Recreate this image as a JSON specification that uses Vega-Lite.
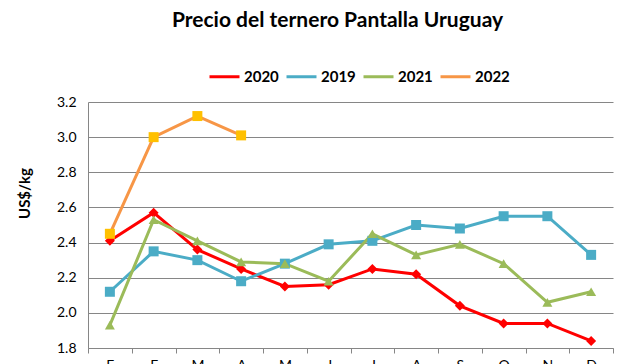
{
  "$schema": "https://vega.github.io/schema/vega-lite/v6.json",
  "width": 525,
  "height": 246,
  "autosize": {"type": "none"},
  "padding": {"left": 88, "top": 102, "right": 27, "bottom": 16},
  "background": "white",
  "title": {
    "text": "Precio del ternero Pantalla Uruguay",
    "font": "Lato",
    "fontSize": 21,
    "fontWeight": "bold",
    "color": "#000000",
    "anchor": "middle",
    "frame": "group",
    "dx": -13,
    "offset": 29
  },
  "config": {
    "view": {"stroke": null},
    "axis": {"labelFont": "Lato", "titleFont": "Lato", "labelColor": "#000000", "titleColor": "#000000"}
  },
  "data": {
    "values": [
      {"mes": "Enero", "serie": "2020", "v": 2.41},
      {"mes": "Febrero", "serie": "2020", "v": 2.57},
      {"mes": "Marzo", "serie": "2020", "v": 2.36},
      {"mes": "Abril", "serie": "2020", "v": 2.25},
      {"mes": "Mayo", "serie": "2020", "v": 2.15},
      {"mes": "Junio", "serie": "2020", "v": 2.16},
      {"mes": "Julio", "serie": "2020", "v": 2.25},
      {"mes": "Agosto", "serie": "2020", "v": 2.22},
      {"mes": "Setiembre", "serie": "2020", "v": 2.04},
      {"mes": "Octubre", "serie": "2020", "v": 1.94},
      {"mes": "Noviembre", "serie": "2020", "v": 1.94},
      {"mes": "Diciembre", "serie": "2020", "v": 1.84},
      {"mes": "Enero", "serie": "2019", "v": 2.12},
      {"mes": "Febrero", "serie": "2019", "v": 2.35},
      {"mes": "Marzo", "serie": "2019", "v": 2.30},
      {"mes": "Abril", "serie": "2019", "v": 2.18},
      {"mes": "Mayo", "serie": "2019", "v": 2.28},
      {"mes": "Junio", "serie": "2019", "v": 2.39},
      {"mes": "Julio", "serie": "2019", "v": 2.41},
      {"mes": "Agosto", "serie": "2019", "v": 2.50},
      {"mes": "Setiembre", "serie": "2019", "v": 2.48},
      {"mes": "Octubre", "serie": "2019", "v": 2.55},
      {"mes": "Noviembre", "serie": "2019", "v": 2.55},
      {"mes": "Diciembre", "serie": "2019", "v": 2.33},
      {"mes": "Enero", "serie": "2021", "v": 1.93},
      {"mes": "Febrero", "serie": "2021", "v": 2.53},
      {"mes": "Marzo", "serie": "2021", "v": 2.41},
      {"mes": "Abril", "serie": "2021", "v": 2.29},
      {"mes": "Mayo", "serie": "2021", "v": 2.28},
      {"mes": "Junio", "serie": "2021", "v": 2.18},
      {"mes": "Julio", "serie": "2021", "v": 2.45},
      {"mes": "Agosto", "serie": "2021", "v": 2.33},
      {"mes": "Setiembre", "serie": "2021", "v": 2.39},
      {"mes": "Octubre", "serie": "2021", "v": 2.28},
      {"mes": "Noviembre", "serie": "2021", "v": 2.06},
      {"mes": "Diciembre", "serie": "2021", "v": 2.12},
      {"mes": "Enero", "serie": "2022", "v": 2.45},
      {"mes": "Febrero", "serie": "2022", "v": 3.00},
      {"mes": "Marzo", "serie": "2022", "v": 3.12},
      {"mes": "Abril", "serie": "2022", "v": 3.01}
    ]
  },
  "encoding": {
    "x": {
      "field": "mes",
      "type": "ordinal",
      "bandPosition": 0.5,
      "sort": ["Enero", "Febrero", "Marzo", "Abril", "Mayo", "Junio", "Julio", "Agosto", "Setiembre", "Octubre", "Noviembre", "Diciembre"],
      "scale": {"type": "band", "paddingInner": 0, "paddingOuter": 0},
      "axis": {
        "title": null,
        "labelExpr": "slice(datum.label, 0, 1)",
        "labelAngle": 0,
        "labelFontSize": 14,
        "labelPadding": 5,
        "tickBand": "extent",
        "ticks": true,
        "tickSize": 5,
        "tickColor": "#868686",
        "domainColor": "#868686",
        "grid": false
      }
    },
    "y": {
      "field": "v",
      "type": "quantitative",
      "scale": {"domain": [1.8, 3.2], "nice": false, "zero": false},
      "axis": {
        "title": "US$/kg",
        "titleFontSize": 15,
        "titleFontWeight": "bold",
        "titleX": -64,
        "titleY": 91,
        "titleBaseline": "middle",
        "values": [1.8, 2.0, 2.2, 2.4, 2.6, 2.8, 3.0, 3.2],
        "format": ".1f",
        "labelFontSize": 14,
        "labelPadding": 12,
        "ticks": false,
        "domainColor": "#868686",
        "gridColor": "#868686",
        "gridWidth": 1
      }
    }
  },
  "layer": [
    {
      "mark": {"type": "line", "strokeWidth": 3},
      "encoding": {
        "color": {
          "field": "serie",
          "type": "nominal",
          "scale": {"domain": ["2020", "2019", "2021", "2022"], "range": ["#FF0000", "#4BACC6", "#9BBB59", "#F79646"]},
          "legend": {
            "title": null,
            "orient": "none",
            "legendX": 120,
            "legendY": -42,
            "direction": "horizontal",
            "symbolType": "stroke",
            "symbolSize": 900,
            "symbolStrokeWidth": 3,
            "labelFont": "Lato",
            "labelFontSize": 15,
            "labelFontWeight": "bold",
            "labelColor": "#000000",
            "columnPadding": 1,
            "labelOffset": 3
          }
        }
      }
    },
    {
      "mark": {"type": "point", "filled": true, "opacity": 1, "size": 100},
      "encoding": {
        "color": {
          "field": "serie",
          "type": "nominal",
          "scale": {"domain": ["2020", "2019", "2021", "2022"], "range": ["#FF0000", "#4BACC6", "#9BBB59", "#FFC000"]},
          "legend": null
        },
        "shape": {
          "field": "serie",
          "type": "nominal",
          "scale": {"domain": ["2020", "2019", "2021", "2022"], "range": ["diamond", "square", "triangle-up", "square"]},
          "legend": null
        }
      }
    }
  ],
  "resolve": {"scale": {"color": "independent", "shape": "independent"}}
}
